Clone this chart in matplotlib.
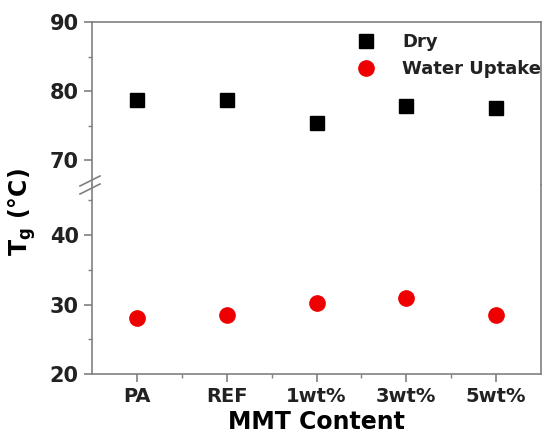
import matplotlib
matplotlib.use('Agg')
import matplotlib.pyplot as plt
from matplotlib.ticker import MultipleLocator

# data
categories = ['PA', 'REF', '1wt%', '3wt%', '5wt%']
tg_dry = [78.7, 78.7, 75.4, 77.8, 77.6]
tg_water = [28.1, 28.5, 30.15, 30.9, 28.5]

plt.rcParams['font.family'] = ['DejaVu Sans']
plt.rcParams['font.weight'] = 'bold'

fig = plt.figure(figsize=(5.45, 4.42), dpi=100)
L, R = 92 / 545, 541 / 545
y_bot, y_brk, y_top = 1 - 374 / 442, 1 - 185 / 442, 1 - 22 / 442
ax_hi = fig.add_axes([L, y_brk, R - L, y_top - y_brk])
ax_lo = fig.add_axes([L, y_bot, R - L, y_brk - y_bot], sharex=ax_hi)

x = list(range(len(categories)))
for ax in (ax_hi, ax_lo):
    ax.plot(x, tg_dry, 's', color='black', markersize=10, label='Dry')
    ax.plot(x, tg_water, 'o', color='#ee0000', markersize=11, label='Water Uptake')
    for s in ax.spines.values():
        s.set_color('#808080')
        s.set_linewidth(1.2)
    ax.tick_params(which='both', direction='out', color='#808080', labelsize=15,
                   labelcolor='#222222')
    ax.tick_params(which='major', length=6, width=1.2)
    ax.tick_params(which='minor', length=3, width=1.0)
    ax.yaxis.set_major_locator(MultipleLocator(10))
    ax.yaxis.set_minor_locator(MultipleLocator(5))

ax_hi.set_ylim(66.4, 90)
ax_lo.set_ylim(20, 47.2)
ax_hi.spines['bottom'].set_visible(False)
ax_lo.spines['top'].set_visible(False)
ax_hi.tick_params(axis='x', which='both', bottom=False, labelbottom=False)
ax_hi.set_yticks([70, 80, 90])
ax_lo.set_yticks([20, 30, 40])

ax_lo.set_xlim(-0.5, 4.5)
ax_lo.set_xticks(x)
ax_lo.set_xticklabels(categories, fontsize=14)
ax_lo.set_xticks([i + 0.5 for i in x[:-1]], minor=True)
ax_lo.set_xlabel('MMT Content', fontsize=17, fontweight='bold', labelpad=3)

# break marks on the left spine
for dy in (-4, 4):
    fig.add_artist(plt.Line2D([L - 12 / 545, L + 8 / 545],
                              [y_brk + (dy - 5) / 442, y_brk + (dy + 5) / 442],
                              color='#808080', lw=1.2, transform=fig.transFigure))

fig.text(22 / 545, 1 - 212 / 442, 'T$_\\mathregular{g}$ (°C)', rotation=90,
         ha='center', va='center', fontsize=17, fontweight='bold')

leg = ax_hi.legend(loc='upper right', bbox_to_anchor=(1.025, 1.0), frameon=False,
                   fontsize=13, handletextpad=1.0, labelspacing=0.5, borderaxespad=0.2)
for t in leg.get_texts():
    t.set_color('#222222')

fig.savefig('out.png', dpi=100)
